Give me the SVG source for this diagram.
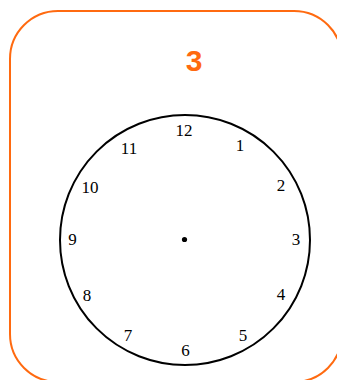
<svg xmlns="http://www.w3.org/2000/svg" width="337" height="380" viewBox="0 0 337 380">
<style>
.frame{fill:none;stroke:#FF6A10;stroke-width:2}
.title{font-family:"Liberation Sans",Arial,sans-serif;font-weight:bold;font-size:30px;fill:#FF6A10;text-anchor:middle}
.face{fill:#fff;stroke:#000;stroke-width:2}
.num{font-family:"Liberation Serif","Times New Roman",serif;font-size:17px;fill:#000;text-anchor:middle}
</style>
<rect width="337" height="380" fill="#fff"/>
<g id="frame"><rect class="frame" x="10" y="11" width="332" height="371" rx="48" ry="48"/></g>
<g id="title"><text class="title" x="194" y="71">3</text></g>
<g id="clock">
<circle class="face" cx="185" cy="240" r="125"/>
<circle cx="184.5" cy="239.5" r="2.6" fill="#000"/>
<text class="num" x="184" y="136">12</text>
<text class="num" x="240" y="151">1</text>
<text class="num" x="281" y="191">2</text>
<text class="num" x="296" y="245">3</text>
<text class="num" x="281" y="300">4</text>
<text class="num" x="243" y="341">5</text>
<text class="num" x="185.5" y="356">6</text>
<text class="num" x="128" y="341">7</text>
<text class="num" x="87" y="301">8</text>
<text class="num" x="72.5" y="245">9</text>
<text class="num" x="90" y="193">10</text>
<text class="num" x="129" y="154">11</text>
</g>
<g id="connectors"/>
</svg>
